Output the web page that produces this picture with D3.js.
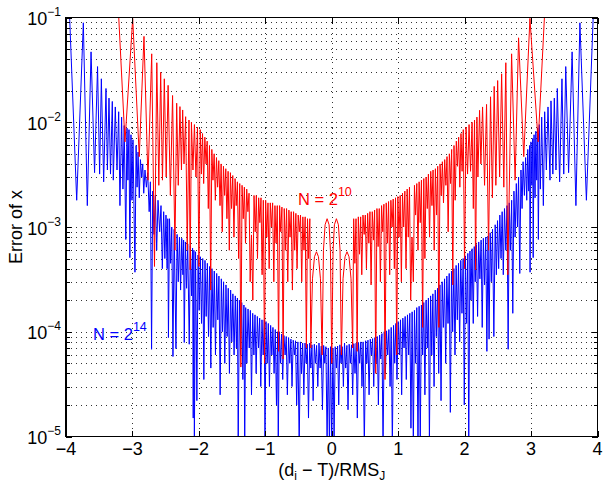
<!DOCTYPE html>
<html>
<head>
<meta charset="utf-8">
<script src="https://cdn.jsdelivr.net/npm/d3@7"></script>
<style>
  body { margin: 0; background: #fff; }
  svg { font-family: 'Liberation Sans', Arial, Helvetica, sans-serif; }
</style>
</head>
<body>
<svg id="chart" width="603" height="483"></svg>
<script>
const xTicks = [-4, -3, -2, -1, 0, 1, 2, 3, 4];
const yExponents = [-5, -4, -3, -2, -1];

// error of x for N = 2^14, [ (d_i - T)/RMS_J , error ]
const blueData = [
  [-4.000, 0.2], [-3.945, 0.1], [-3.839, 1.8e-3], [-3.739, 0.089], [-3.679, 1.6e-3], [-3.623, 0.047],
  [-3.570, 3.3e-3], [-3.525, 0.034], [-3.494, 3.2e-3], [-3.468, 0.026], [-3.433, 2.7e-3], [-3.398, 0.021],
  [-3.377, 3.5e-3], [-3.353, 0.017], [-3.330, 3.2e-3], [-3.303, 0.0158], [-3.288, 2.8e-3], [-3.258, 0.014],
  [-3.232, 3.5e-3], [-3.207, 0.0126], [-3.188, 1.6e-3], [-3.163, 0.0112], [-3.143, 2.3e-3], [-3.124, 9.3e-3],
  [-3.100, 7.6e-4], [-3.082, 8.8e-3], [-3.068, 2.8e-3], [-3.052, 8.5e-3], [-3.039, 5.1e-4], [-3.022, 7.6e-3],
  [-3.007, 1.8e-3], [-2.992, 6.8e-3], [-2.962, 3.7e-4], [-2.945, 6.0e-3], [-2.930, 2.4e-3], [-2.915, 5.2e-3],
  [-2.897, 1.9e-3], [-2.880, 4.4e-3], [-2.861, 3.0e-3], [-2.845, 4.0e-3], [-2.830, 2.1e-3], [-2.811, 3.5e-3],
  [-2.790, 2.4e-3], [-2.770, 3.3e-3], [-2.748, 1.4e-3], [-2.730, 2.7e-3], [-2.712, 6.8e-5], [-2.695, 2.2e-3],
  [-2.675, 8.5e-4], [-2.655, 2.0e-3], [-2.635, 6.0e-4], [-2.615, 1.8e-3], [-2.590, 9.0e-4], [-2.570, 1.6e-3],
  [-2.550, 4.0e-4], [-2.530, 1.4e-3], [-2.512, 5.0e-4], [-2.495, 1.3e-3], [-2.478, 4.0e-4], [-2.468, 1.2e-3],
  [-2.458, 8.8e-5], [-2.442, 1.2e-3], [-2.425, 4.5e-4], [-2.408, 1.0e-3], [-2.390, 5.8e-5], [-2.372, 9.5e-4],
  [-2.345, 6.9e-5], [-2.328, 8.5e-4], [-2.310, 3.0e-4], [-2.292, 8.0e-4], [-2.275, 2.5e-4], [-2.258, 7.8e-4],
  [-2.240, 3.5e-4], [-2.230, 7.5e-4], [-2.220, 7.9e-5], [-2.203, 7.2e-4], [-2.185, 2.6e-4], [-2.168, 6.9e-4],
  [-2.145, 7.6e-5], [-2.128, 6.6e-4], [-2.110, 2.2e-4], [-2.095, 6.3e-4], [-2.085, 1.5e-5], [-2.075, 6.0e-4],
  [-2.068, 9.0e-6], [-2.050, 5.8e-4], [-2.030, 2.2e-5], [-2.012, 5.4e-4], [-1.995, 1.6e-4], [-1.978, 5.2e-4],
  [-1.960, 1.2e-4], [-1.942, 5.0e-4], [-1.925, 3.5e-5], [-1.908, 4.8e-4], [-1.890, 1.4e-4], [-1.872, 4.5e-4],
  [-1.855, 9.0e-5], [-1.838, 4.2e-4], [-1.820, 4.5e-5], [-1.803, 4.0e-4], [-1.785, 1.1e-4], [-1.768, 3.8e-4],
  [-1.750, 6.0e-5], [-1.732, 3.6e-4], [-1.715, 1.3e-4], [-1.698, 3.4e-4], [-1.680, 2.5e-5], [-1.662, 3.2e-4],
  [-1.645, 1.0e-4], [-1.628, 3.0e-4], [-1.610, 5.0e-5], [-1.592, 2.8e-4], [-1.575, 9.0e-5], [-1.558, 2.6e-4],
  [-1.540, 4.0e-5], [-1.522, 2.5e-4], [-1.505, 8.0e-5], [-1.488, 2.3e-4], [-1.470, 6.0e-5], [-1.452, 2.2e-4],
  [-1.435, 7.0e-5], [-1.420, 2.1e-4], [-1.408, 8.0e-6], [-1.390, 2.0e-4], [-1.372, 6.0e-5], [-1.355, 1.9e-4],
  [-1.338, 3.5e-5], [-1.322, 1.8e-4], [-1.310, 8.0e-6], [-1.295, 1.7e-4], [-1.278, 5.0e-5], [-1.260, 1.65e-4],
  [-1.242, 7.0e-5], [-1.225, 1.6e-4], [-1.208, 2.5e-5], [-1.190, 1.5e-4], [-1.172, 6.0e-5], [-1.155, 1.45e-4],
  [-1.138, 4.0e-5], [-1.120, 1.4e-4], [-1.102, 7.0e-5], [-1.085, 1.35e-4], [-1.068, 3.0e-5], [-1.050, 1.3e-4],
  [-1.032, 6.0e-5], [-1.015, 1.3e-4], [-1.005, 8.0e-6], [-0.990, 1.25e-4], [-0.972, 5.0e-5], [-0.955, 1.2e-4],
  [-0.938, 3.0e-5], [-0.920, 1.15e-4], [-0.902, 6.0e-5], [-0.885, 1.1e-4], [-0.868, 4.0e-5], [-0.850, 1.05e-4],
  [-0.832, 2.0e-5], [-0.815, 1.0e-4], [-0.805, 8.0e-6], [-0.790, 1.0e-4], [-0.772, 5.0e-5], [-0.755, 9.5e-5],
  [-0.738, 3.5e-5], [-0.720, 9.2e-5], [-0.702, 6.0e-5], [-0.685, 9.0e-5], [-0.668, 2.5e-5], [-0.650, 8.8e-5],
  [-0.632, 5.0e-5], [-0.615, 8.5e-5], [-0.598, 3.0e-5], [-0.580, 8.3e-5], [-0.562, 6.0e-5], [-0.545, 8.2e-5],
  [-0.528, 2.0e-5], [-0.510, 8.0e-5], [-0.490, 8.0e-6], [-0.472, 8.0e-5], [-0.455, 4.0e-5], [-0.438, 7.8e-5],
  [-0.420, 2.5e-5], [-0.402, 7.8e-5], [-0.385, 5.0e-5], [-0.368, 7.6e-5], [-0.350, 1.5e-5], [-0.332, 7.8e-5],
  [-0.315, 4.5e-5], [-0.298, 7.5e-5], [-0.280, 2.2e-5], [-0.262, 7.6e-5], [-0.245, 5.0e-5], [-0.228, 7.4e-5],
  [-0.210, 3.0e-5], [-0.192, 7.8e-5], [-0.175, 4.5e-5], [-0.158, 7.3e-5], [-0.140, 1.8e-5], [-0.122, 7.4e-5],
  [-0.105, 5.0e-5], [-0.088, 7.2e-5], [-0.070, 9.0e-6], [-0.052, 7.0e-5], [-0.035, 8.0e-6], [-0.018, 7.2e-5],
  [0.000, 8.0e-6], [0.018, 7.0e-5], [0.035, 9.0e-6], [0.052, 7.2e-5], [0.070, 4.5e-5], [0.088, 7.3e-5],
  [0.105, 2.0e-5], [0.122, 7.5e-5], [0.140, 5.0e-5], [0.158, 7.2e-5], [0.175, 3.0e-5], [0.192, 7.8e-5],
  [0.210, 4.5e-5], [0.228, 7.4e-5], [0.245, 1.8e-5], [0.262, 7.6e-5], [0.280, 5.0e-5], [0.298, 7.5e-5],
  [0.315, 2.5e-5], [0.332, 7.7e-5], [0.350, 4.0e-5], [0.368, 7.8e-5], [0.385, 1.5e-5], [0.402, 7.9e-5],
  [0.420, 5.0e-5], [0.438, 8.0e-5], [0.455, 3.0e-5], [0.472, 8.0e-5], [0.490, 8.0e-6], [0.510, 8.2e-5],
  [0.528, 5.0e-5], [0.545, 8.3e-5], [0.562, 2.5e-5], [0.580, 8.5e-5], [0.598, 6.0e-5], [0.615, 8.6e-5],
  [0.632, 3.0e-5], [0.650, 8.8e-5], [0.668, 5.0e-5], [0.685, 9.0e-5], [0.702, 2.0e-5], [0.720, 9.3e-5],
  [0.738, 5.5e-5], [0.755, 9.6e-5], [0.772, 8.0e-6], [0.790, 1.0e-4], [0.808, 4.0e-5], [0.825, 1.02e-4],
  [0.842, 6.0e-5], [0.860, 1.05e-4], [0.878, 3.0e-5], [0.895, 1.1e-4], [0.912, 8.0e-6], [0.930, 1.15e-4],
  [0.948, 5.0e-5], [0.965, 1.2e-4], [0.982, 3.5e-5], [1.000, 1.25e-4], [1.018, 6.0e-5], [1.035, 1.3e-4],
  [1.052, 2.5e-5], [1.070, 1.35e-4], [1.088, 7.0e-5], [1.105, 1.4e-4], [1.122, 3.5e-5], [1.140, 1.45e-4],
  [1.158, 6.0e-5], [1.175, 1.5e-4], [1.192, 1.2e-5], [1.210, 1.55e-4], [1.228, 8.0e-6], [1.245, 1.6e-4],
  [1.262, 5.0e-5], [1.280, 1.7e-4], [1.298, 8.0e-6], [1.315, 1.75e-4], [1.332, 8.0e-6], [1.350, 1.8e-4],
  [1.368, 6.0e-5], [1.385, 1.9e-4], [1.402, 2.5e-5], [1.420, 2.0e-4], [1.438, 7.0e-5], [1.455, 2.1e-4],
  [1.470, 9.0e-6], [1.488, 2.2e-4], [1.505, 6.0e-5], [1.522, 2.3e-4], [1.540, 3.0e-5], [1.558, 2.5e-4],
  [1.575, 9.0e-5], [1.592, 2.6e-4], [1.610, 4.0e-5], [1.628, 2.8e-4], [1.645, 2.2e-5], [1.662, 3.0e-4],
  [1.680, 1.1e-4], [1.698, 3.2e-4], [1.715, 5.0e-5], [1.732, 3.4e-4], [1.750, 1.2e-4], [1.768, 3.6e-4],
  [1.785, 1.7e-5], [1.803, 3.8e-4], [1.820, 1.0e-4], [1.838, 4.0e-4], [1.855, 6.0e-5], [1.872, 4.3e-4],
  [1.890, 1.3e-4], [1.908, 4.5e-4], [1.925, 8.0e-5], [1.942, 4.8e-4], [1.960, 1.5e-4], [1.978, 5.0e-4],
  [1.995, 2.0e-5], [2.012, 5.3e-4], [2.030, 1.2e-4], [2.048, 5.6e-4], [2.062, 8.0e-6], [2.080, 5.9e-4],
  [2.095, 2.0e-4], [2.112, 6.2e-4], [2.130, 1.2e-4], [2.145, 6.5e-4], [2.160, 3.0e-4], [2.178, 6.8e-4],
  [2.195, 1.4e-4], [2.212, 7.2e-4], [2.230, 3.2e-4], [2.248, 7.5e-4], [2.265, 1.1e-4], [2.282, 7.8e-4],
  [2.300, 2.8e-4], [2.318, 8.0e-4], [2.335, 6.5e-5], [2.352, 8.2e-4], [2.368, 8.5e-5], [2.385, 8.8e-4],
  [2.402, 3.0e-4], [2.420, 9.5e-4], [2.440, 9.0e-5], [2.460, 1.05e-3], [2.478, 3.5e-4], [2.495, 1.15e-3],
  [2.512, 4.0e-4], [2.530, 1.3e-3], [2.548, 5.0e-4], [2.565, 1.4e-3], [2.582, 3.5e-4], [2.600, 1.5e-3],
  [2.620, 6.0e-4], [2.638, 1.6e-3], [2.655, 6.8e-5], [2.672, 1.7e-3], [2.690, 6.0e-4], [2.708, 1.8e-3],
  [2.725, 1.5e-4], [2.742, 2.2e-3], [2.760, 8.0e-4], [2.778, 2.6e-3], [2.795, 1.0e-3], [2.812, 3.0e-3],
  [2.830, 3.6e-4], [2.848, 3.5e-3], [2.865, 1.5e-3], [2.880, 4.2e-3], [2.900, 2.0e-3], [2.918, 4.6e-3],
  [2.935, 1.8e-3], [2.950, 5.5e-3], [2.965, 2.2e-3], [2.978, 6.0e-3], [2.985, 3.7e-4], [2.998, 6.5e-3],
  [3.012, 2.5e-3], [3.025, 7.0e-3], [3.032, 5.1e-4], [3.045, 7.6e-3], [3.060, 1.9e-3], [3.072, 8.2e-3],
  [3.085, 2.8e-3], [3.098, 8.8e-3], [3.110, 7.6e-4], [3.124, 9.5e-3], [3.140, 2.3e-3], [3.160, 0.0112],
  [3.185, 1.6e-3], [3.205, 0.0126], [3.230, 3.5e-3], [3.255, 0.014], [3.285, 2.8e-3], [3.300, 0.016],
  [3.328, 3.2e-3], [3.350, 0.017], [3.375, 3.5e-3], [3.395, 0.021], [3.430, 2.7e-3], [3.465, 0.026],
  [3.492, 3.2e-3], [3.522, 0.034], [3.565, 3.3e-3], [3.618, 0.047], [3.675, 1.6e-3], [3.735, 0.089],
  [3.833, 1.8e-3], [3.935, 0.1], [4.000, 0.2]
];

// error of x for N = 2^10
const redData = [
  [-3.215, 0.13], [-3.112, 6.5e-3], [-2.996, 0.098], [-2.897, 4.7e-3], [-2.826, 0.066], [-2.766, 2.8e-3],
  [-2.710, 0.045], [-2.668, 4.2e-4], [-2.633, 0.037], [-2.603, 2.5e-3], [-2.575, 0.030], [-2.548, 2.8e-3],
  [-2.520, 0.026], [-2.492, 3.0e-3], [-2.463, 0.0225], [-2.429, 2.0e-3], [-2.396, 0.018], [-2.360, 6.0e-4],
  [-2.334, 0.0152], [-2.310, 2.5e-3], [-2.285, 0.0141], [-2.262, 3.5e-3], [-2.244, 0.0131], [-2.224, 4.0e-3],
  [-2.199, 0.0113], [-2.175, 6.0e-4], [-2.149, 0.0105], [-2.131, 3.9e-4], [-2.112, 0.0100], [-2.089, 3.5e-3],
  [-2.067, 9.5e-3], [-2.044, 3.0e-3], [-2.021, 9.0e-3], [-1.999, 4.2e-4], [-1.980, 8.5e-3], [-1.962, 3.2e-3],
  [-1.945, 7.8e-3], [-1.928, 2.6e-3], [-1.910, 7.2e-3], [-1.892, 4.0e-3], [-1.875, 6.6e-3], [-1.858, 1.5e-3],
  [-1.840, 6.0e-3], [-1.822, 2.5e-4], [-1.805, 5.5e-3], [-1.788, 2.8e-3], [-1.770, 5.0e-3], [-1.752, 1.8e-3],
  [-1.735, 4.6e-3], [-1.718, 2.4e-3], [-1.700, 4.3e-3], [-1.682, 1.6e-3], [-1.665, 4.0e-3], [-1.648, 9.0e-4],
  [-1.630, 3.8e-3], [-1.612, 2.0e-3], [-1.595, 3.6e-3], [-1.578, 1.2e-3], [-1.560, 3.4e-3], [-1.542, 6.0e-4],
  [-1.525, 3.3e-3], [-1.508, 1.5e-3], [-1.490, 3.1e-3], [-1.472, 8.0e-4], [-1.455, 2.9e-3], [-1.438, 1.6e-3],
  [-1.420, 2.7e-3], [-1.402, 5.0e-4], [-1.385, 2.6e-3], [-1.368, 4.6e-5], [-1.350, 2.5e-3], [-1.332, 1.2e-3],
  [-1.315, 2.4e-3], [-1.298, 7.0e-4], [-1.280, 2.3e-3], [-1.262, 1.4e-3], [-1.245, 2.1e-3], [-1.228, 3.0e-4],
  [-1.208, 8.4e-4], [-1.188, 2.0e-4], [-1.170, 2.0e-3], [-1.152, 9.0e-4], [-1.135, 2.0e-3], [-1.118, 5.0e-4],
  [-1.100, 1.9e-3], [-1.082, 1.1e-3], [-1.065, 1.9e-3], [-1.048, 3.5e-4], [-1.030, 1.8e-3], [-1.012, 5.0e-5],
  [-0.995, 1.8e-3], [-0.978, 8.0e-4], [-0.960, 1.7e-3], [-0.942, 4.0e-4], [-0.925, 1.7e-3], [-0.908, 1.0e-3],
  [-0.890, 1.7e-3], [-0.872, 3.0e-4], [-0.855, 1.6e-3], [-0.838, 7.0e-4], [-0.820, 1.6e-3], [-0.800, 6.5e-5],
  [-0.785, 1.6e-3], [-0.768, 9.0e-4], [-0.750, 1.55e-3], [-0.732, 5.5e-5], [-0.715, 1.5e-3], [-0.698, 6.0e-4],
  [-0.680, 1.5e-3], [-0.662, 3.0e-4], [-0.645, 1.45e-3], [-0.628, 8.0e-4], [-0.610, 1.4e-3], [-0.592, 2.5e-4],
  [-0.575, 1.4e-3], [-0.558, 6.0e-4], [-0.540, 1.35e-3], [-0.522, 4.0e-4], [-0.505, 1.3e-3], [-0.488, 9.0e-4],
  [-0.470, 1.3e-3], [-0.452, 3.0e-4], [-0.435, 1.25e-3], [-0.418, 6.0e-4], [-0.400, 1.25e-3], [-0.382, 7.0e-5],
  [-0.365, 1.2e-3], [-0.348, 5.0e-4], [-0.330, 1.2e-3], [-0.315, 7.0e-5], [-0.290, 3.2e-4], [-0.260, 5.2e-4],
  [-0.230, 5.8e-4], [-0.200, 5.2e-4], [-0.170, 3.2e-4], [-0.145, 6.0e-5], [-0.125, 6.0e-4], [-0.100, 1.05e-3],
  [-0.070, 1.2e-3], [-0.040, 1.05e-3], [-0.020, 6.0e-4], [0.000, 5.0e-5], [0.020, 6.0e-4], [0.040, 1.05e-3],
  [0.070, 1.2e-3], [0.100, 1.05e-3], [0.125, 6.0e-4], [0.145, 6.0e-5], [0.170, 3.2e-4], [0.200, 5.2e-4],
  [0.230, 5.8e-4], [0.260, 5.2e-4], [0.290, 3.2e-4], [0.315, 7.0e-5], [0.330, 1.2e-3], [0.348, 4.5e-4],
  [0.365, 1.2e-3], [0.382, 6.5e-5], [0.400, 1.25e-3], [0.418, 5.5e-4], [0.435, 1.25e-3], [0.452, 3.5e-4],
  [0.470, 1.3e-3], [0.488, 8.5e-4], [0.505, 1.3e-3], [0.522, 4.0e-4], [0.540, 1.35e-3], [0.558, 7.0e-4],
  [0.575, 1.4e-3], [0.592, 2.8e-4], [0.610, 1.4e-3], [0.628, 7.5e-4], [0.645, 1.45e-3], [0.662, 4.0e-5],
  [0.680, 1.5e-3], [0.698, 6.5e-4], [0.715, 1.5e-3], [0.732, 3.0e-4], [0.750, 1.6e-3], [0.768, 9.0e-4],
  [0.785, 1.65e-3], [0.802, 3.5e-5], [0.820, 1.7e-3], [0.838, 7.0e-4], [0.855, 1.75e-3], [0.872, 3.5e-4],
  [0.890, 1.8e-3], [0.908, 1.0e-3], [0.925, 1.85e-3], [0.942, 4.0e-4], [0.960, 1.9e-3], [0.978, 6.0e-5],
  [0.995, 1.95e-3], [1.012, 8.0e-4], [1.030, 2.0e-3], [1.048, 3.0e-4], [1.065, 2.1e-3], [1.082, 1.0e-3],
  [1.100, 2.2e-3], [1.118, 4.0e-4], [1.135, 2.3e-3], [1.152, 8.0e-4], [1.170, 2.4e-3], [1.188, 2.0e-4],
  [1.208, 8.0e-4], [1.228, 3.0e-4], [1.245, 2.5e-3], [1.262, 1.3e-3], [1.280, 2.6e-3], [1.298, 6.0e-4],
  [1.315, 2.7e-3], [1.332, 1.1e-3], [1.350, 2.8e-3], [1.368, 1.1e-4], [1.385, 2.9e-3], [1.402, 5.0e-4],
  [1.420, 3.0e-3], [1.438, 1.5e-3], [1.455, 3.2e-3], [1.472, 8.0e-4], [1.490, 3.4e-3], [1.508, 1.6e-3],
  [1.525, 3.5e-3], [1.542, 6.0e-4], [1.560, 3.6e-3], [1.578, 1.3e-3], [1.595, 3.8e-3], [1.612, 1.1e-4],
  [1.630, 4.0e-3], [1.648, 2.0e-3], [1.665, 4.2e-3], [1.682, 1.7e-3], [1.700, 4.4e-3], [1.718, 2.5e-3],
  [1.735, 4.7e-3], [1.752, 9.0e-4], [1.770, 5.0e-3], [1.788, 2.6e-3], [1.805, 5.5e-3], [1.822, 2.8e-4],
  [1.840, 6.0e-3], [1.858, 1.8e-3], [1.875, 6.6e-3], [1.892, 3.8e-3], [1.910, 7.2e-3], [1.928, 2.4e-3],
  [1.945, 7.8e-3], [1.962, 3.4e-3], [1.980, 8.5e-3], [1.999, 4.0e-4], [2.021, 9.0e-3], [2.044, 3.2e-3],
  [2.067, 9.5e-3], [2.089, 3.4e-3], [2.112, 0.0100], [2.131, 1.5e-3], [2.149, 0.0105], [2.165, 3.9e-4],
  [2.185, 0.0112], [2.200, 3.0e-3], [2.225, 0.0130], [2.245, 4.0e-3], [2.270, 0.0140], [2.300, 2.5e-3],
  [2.330, 0.0148], [2.360, 6.0e-4], [2.390, 0.0175], [2.418, 1.9e-3], [2.445, 0.022], [2.470, 2.5e-3],
  [2.497, 0.025], [2.527, 3.0e-3], [2.557, 0.029], [2.590, 2.4e-3], [2.620, 0.037], [2.650, 3.5e-4],
  [2.707, 0.045], [2.760, 2.8e-3], [2.812, 0.064], [2.890, 4.7e-3], [2.983, 0.098], [3.107, 6.5e-3],
  [3.210, 0.13]
];

const width = 603;
const height = 483;
const plotLeft = 66;
const plotRight = 597.5;
const plotTop = 17.5;
const plotBottom = 436.5;
const tickFont = 18;
const labelFont = 18;

const svg = d3.select('#chart');

const x = d3.scaleLinear().domain([-4, 4]).range([plotLeft, plotRight]);
const y = d3.scaleLog().domain([1e-5, 1e-1]).range([plotBottom, plotTop]);

// every 1..9 x 10^k inside the box, for the dotted log grid and minor ticks
var yMinor = [];
yExponents.slice(0, -1).forEach(function(e) {
  for (var m = 1; m < 10; m++) {
    if (e === -5 && m === 1) continue;
    yMinor.push(m * Math.pow(10, e));
  }
});

function crisp(v) { return Math.round(v) + 0.5; }

var grid = svg.append('g')
  .attr('stroke', '#333')
  .attr('stroke-width', 1)
  .attr('stroke-dasharray', '1,4')
  .attr('shape-rendering', 'crispEdges');

grid.selectAll('.grid-x').data(xTicks.slice(1, -1)).join('line')
  .attr('class', 'grid-x')
  .attr('x1', d => crisp(x(d))).attr('x2', d => crisp(x(d)))
  .attr('y1', plotTop).attr('y2', plotBottom);

grid.selectAll('.grid-y').data(yMinor).join('line')
  .attr('class', 'grid-y')
  .attr('x1', plotLeft).attr('x2', plotRight)
  .attr('y1', d => crisp(y(d))).attr('y2', d => crisp(y(d)));

svg.append('clipPath').attr('id', 'plot-clip')
  .append('rect')
  .attr('x', plotLeft).attr('y', plotTop)
  .attr('width', plotRight - plotLeft).attr('height', plotBottom - plotTop);

var line = d3.line().x(d => x(d[0])).y(d => y(d[1]));

var curves = svg.append('g').attr('clip-path', 'url(#plot-clip)')
  .attr('fill', 'none').attr('stroke-width', 1).attr('stroke-linejoin', 'round');
curves.append('path').datum(blueData).attr('stroke', '#0000ff').attr('d', line);
curves.append('path').datum(redData).attr('stroke', '#ff0000').attr('d', line);

// box with inward ticks on all four sides
var axes = svg.append('g').attr('stroke', '#000').attr('shape-rendering', 'crispEdges');
axes.append('rect')
  .attr('x', plotLeft).attr('y', plotTop)
  .attr('width', plotRight - plotLeft).attr('height', plotBottom - plotTop)
  .attr('fill', 'none').attr('stroke-width', 1.5);

xTicks.forEach(function(t) {
  var px = crisp(x(t));
  axes.append('line').attr('x1', px).attr('x2', px).attr('y1', plotBottom).attr('y2', plotBottom - 6);
  axes.append('line').attr('x1', px).attr('x2', px).attr('y1', plotTop).attr('y2', plotTop + 6);
});

yMinor.concat([1e-5, 1e-1]).forEach(function(v) {
  var py = crisp(y(v));
  var major = Math.abs(Math.log10(v) - Math.round(Math.log10(v))) < 1e-9;
  var len = major ? 6 : 3.5;
  axes.append('line').attr('x1', plotLeft).attr('x2', plotLeft + len).attr('y1', py).attr('y2', py);
  axes.append('line').attr('x1', plotRight).attr('x2', plotRight - len).attr('y1', py).attr('y2', py);
});

var labels = svg.append('g').attr('fill', '#000');

labels.selectAll('.x-tick').data(xTicks).join('text')
  .attr('class', 'x-tick')
  .attr('x', d => x(d))
  .attr('y', 455)
  .attr('text-anchor', 'middle')
  .style('font-size', tickFont + 'px')
  .text(d => d < 0 ? '\u2212' + Math.abs(d) : d);

yExponents.forEach(function(e) {
  var t = labels.append('text')
    .attr('x', 61)
    .attr('y', y(Math.pow(10, e)) + 7.5)
    .attr('text-anchor', 'end')
    .style('font-size', tickFont + 'px');
  t.append('tspan').text('10');
  t.append('tspan').attr('dy', -9).style('font-size', '12px').text('\u2212' + Math.abs(e));
});

var xLabel = labels.append('text')
  .attr('x', (plotLeft + plotRight) / 2)
  .attr('y', 476)
  .attr('text-anchor', 'middle')
  .style('font-size', labelFont + 'px');
xLabel.append('tspan').text('(d');
xLabel.append('tspan').attr('dy', 4).style('font-size', '12px').text('i');
xLabel.append('tspan').attr('dy', -4).text(' \u2212 T)/RMS');
xLabel.append('tspan').attr('dy', 4).style('font-size', '12px').text('J');

labels.append('text')
  .attr('transform', 'translate(22,' + (plotTop + plotBottom) / 2 + ') rotate(-90)')
  .attr('text-anchor', 'middle')
  .style('font-size', labelFont + 'px')
  .text('Error of x');

function seriesLabel(px, py, colour, power) {
  var t = labels.append('text')
    .attr('x', px).attr('y', py)
    .attr('fill', colour)
    .style('font-size', '16.5px');
  t.append('tspan').text('N = 2');
  t.append('tspan').attr('dy', -9).style('font-size', '12.5px').text(power);
}

seriesLabel(298, 205, '#ff0000', '10');
seriesLabel(93, 340, '#0000ff', '14');
</script>
</body>
</html>
